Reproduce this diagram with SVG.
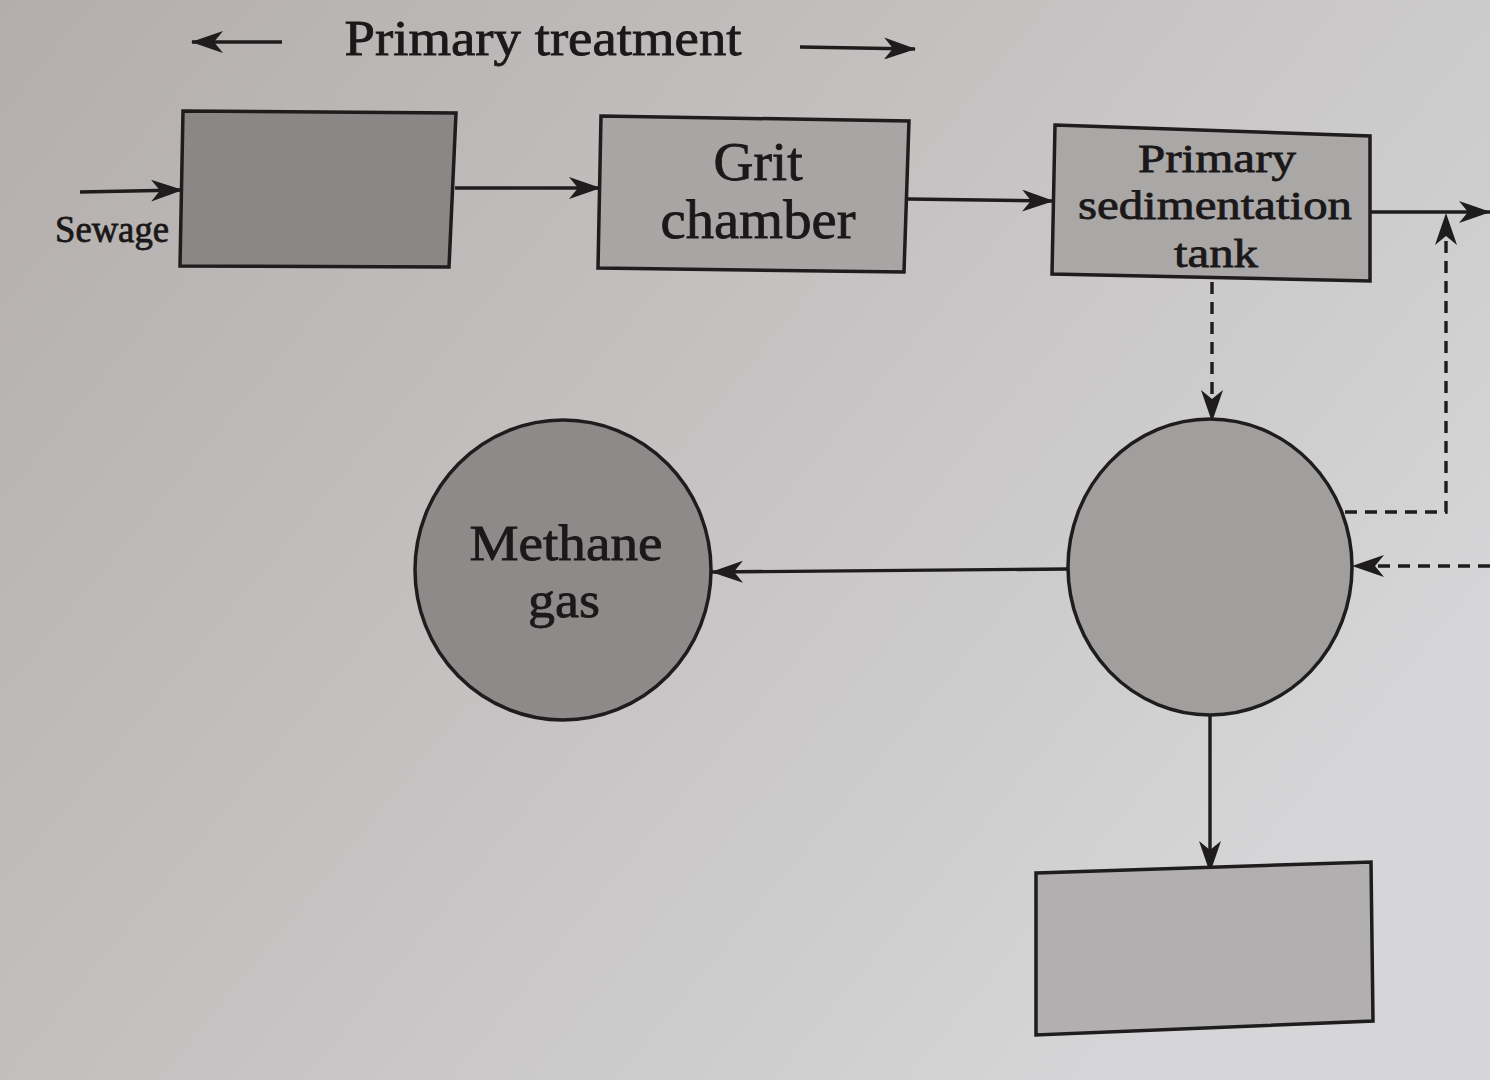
<svg xmlns="http://www.w3.org/2000/svg" width="1490" height="1080" viewBox="0 0 1490 1080">
<defs>
<linearGradient id="bg" x1="0" y1="0" x2="1" y2="0.6">
<stop offset="0" stop-color="#b3aeac"/>
<stop offset="0.5" stop-color="#c4c1c1"/>
<stop offset="1" stop-color="#d6d6d8"/>
</linearGradient>
<marker id="ah" viewBox="0 0 32 22" refX="31" refY="11" markerWidth="32" markerHeight="22" markerUnits="userSpaceOnUse" orient="auto">
<path d="M0,0 L32,11 L0,22 L9,11 Z" fill="#1e1c1c"/>
</marker>
</defs>
<style>
.box{stroke:#1e1c1c;stroke-width:3.5}
.lbl{font-family:"Liberation Serif","DejaVu Serif",serif;fill:#1a1818;stroke:#1a1818;stroke-width:0.8;text-anchor:middle}
.solid{stroke:#1e1c1c;stroke-width:3.4;fill:none}
.dash{stroke:#1e1c1c;stroke-width:3.4;fill:none;stroke-dasharray:12,8}
</style>
<rect width="1490" height="1080" fill="url(#bg)"/>

<g id="title">
<text x="543" y="55" class="lbl" font-size="50" textLength="397" lengthAdjust="spacingAndGlyphs">Primary treatment</text>
<line x1="282" y1="42" x2="192" y2="42" class="solid" marker-end="url(#ah)"/>
<line x1="800" y1="47" x2="915" y2="49" class="solid" marker-end="url(#ah)"/>
</g>

<g id="connectors">
<line x1="80" y1="192" x2="182" y2="190" class="solid" marker-end="url(#ah)"/>
<line x1="455" y1="188" x2="600" y2="188" class="solid" marker-end="url(#ah)"/>
<line x1="908" y1="199" x2="1053" y2="201" class="solid" marker-end="url(#ah)"/>
<line x1="1370" y1="212" x2="1490" y2="212" class="solid" marker-end="url(#ah)"/>
<line x1="1212" y1="282" x2="1212" y2="421" class="dash" marker-end="url(#ah)"/>
<polyline points="1345,512 1446,512 1446,214" class="dash" marker-end="url(#ah)"/>
<line x1="1490" y1="566" x2="1353" y2="566" class="dash" marker-end="url(#ah)"/>
<line x1="1068" y1="569" x2="712" y2="572" class="solid" marker-end="url(#ah)"/>
<line x1="1210" y1="716" x2="1210" y2="872" class="solid" marker-end="url(#ah)"/>
</g>

<g id="sewage">
<text x="112" y="242" class="lbl" font-size="38" textLength="114" lengthAdjust="spacingAndGlyphs">Sewage</text>
</g>

<g id="box1">
<polygon points="183,111 456,113 449,267 180,266" class="box" fill="#8b8786"/>
</g>

<g id="grit">
<polygon points="601,116 909,121 904,272 598,268" class="box" fill="#a9a5a4"/>
<text x="758" y="180" class="lbl" font-size="54" textLength="89" lengthAdjust="spacingAndGlyphs">Grit</text>
<text x="758" y="238" class="lbl" font-size="54" textLength="195" lengthAdjust="spacingAndGlyphs">chamber</text>
</g>

<g id="primary">
<polygon points="1055,125 1370,136 1370,281 1052,274" class="box" fill="#aaa7a7"/>
<text x="1217" y="172" class="lbl" font-size="40" textLength="158" lengthAdjust="spacingAndGlyphs">Primary</text>
<text x="1215" y="219" class="lbl" font-size="40" textLength="274" lengthAdjust="spacingAndGlyphs">sedimentation</text>
<text x="1216" y="267" class="lbl" font-size="40" textLength="84" lengthAdjust="spacingAndGlyphs">tank</text>
</g>

<g id="digester">
<ellipse cx="1210" cy="567" rx="142" ry="148" class="box" fill="#a19e9e"/>
</g>

<g id="methane">
<ellipse cx="563" cy="570" rx="148" ry="150" class="box" fill="#8e8a8a"/>
<text x="566" y="560" class="lbl" font-size="50" textLength="193" lengthAdjust="spacingAndGlyphs">Methane</text>
<text x="564" y="617" class="lbl" font-size="50" textLength="72" lengthAdjust="spacingAndGlyphs">gas</text>
</g>

<g id="box3">
<polygon points="1036,873 1371,862 1373,1021 1036,1035" class="box" fill="#b2afb0"/>
</g>
</svg>
